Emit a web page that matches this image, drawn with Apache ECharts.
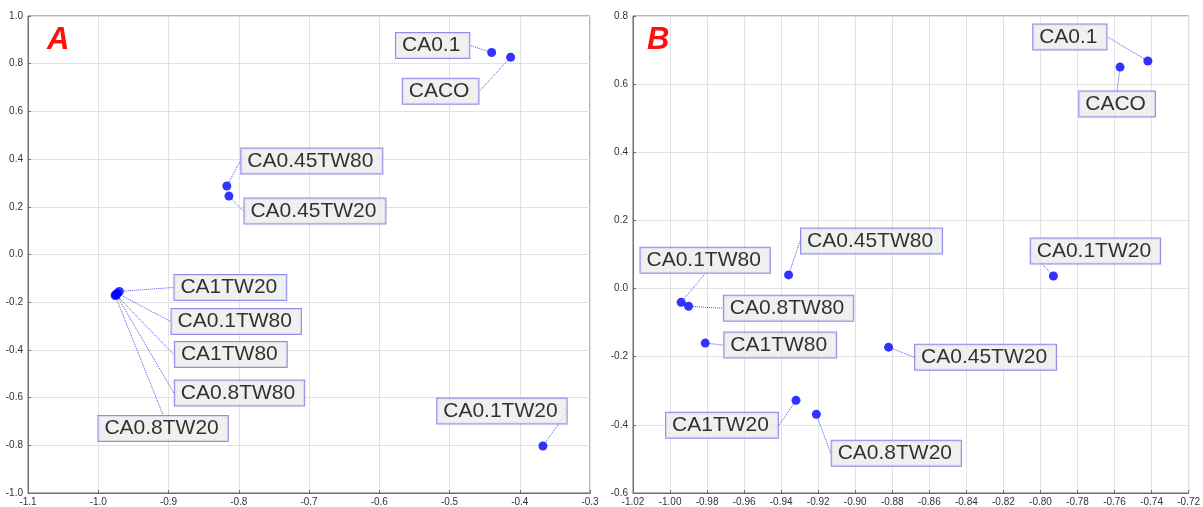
<!DOCTYPE html>
<html>
<head>
<meta charset="utf-8">
<script src="https://cdn.jsdelivr.net/npm/echarts@6/dist/echarts.min.js"></script>
<style>
html,body{margin:0;padding:0;background:#fff;}
#c{width:1203px;height:507px;}
</style>
</head>
<body>
<div id="c"></div>
<script>
// ---- Panel A data ----
const namesA = ['CA0.1','CACO','CA0.45TW80','CA0.45TW20','CA1TW20','CA0.1TW80','CA1TW80','CA0.8TW80','CA0.8TW20','CA0.1TW20'];
const xA = [-0.440, -0.413, -0.817, -0.814, -0.970, -0.973, -0.975, -0.974, -0.976, -0.367];
const yA = [0.847, 0.827, 0.287, 0.245, -0.155, -0.163, -0.168, -0.170, -0.172, -0.803];
// ---- Panel B data ----
const namesB = ['CA0.1','CACO','CA0.45TW80','CA0.1TW80','CA0.8TW80','CA1TW80','CA0.45TW20','CA0.1TW20','CA1TW20','CA0.8TW20'];
const xB = [-0.742, -0.757, -0.936, -0.994, -0.990, -0.981, -0.882, -0.793, -0.932, -0.921];
const yB = [0.668, 0.650, 0.040, -0.040, -0.052, -0.160, -0.172, 0.037, -0.328, -0.369];
// ---- Axis ranges / ticks ----
const axA = {xmin: -1.1, xmax: -0.3, xint: 0.1, ymin: -1.0, ymax: 1.0, yint: 0.2};
const axB = {xmin: -1.02, xmax: -0.72, xint: 0.02, ymin: -0.6, ymax: 0.8, yint: 0.2};
const panelLetters = ['A', 'B'];

// label offsets (pixels, label centre relative to point) - layout only
const offA = [[-59,-7],[-70,34],[85,-25],[86,15],[111,-4],[119,28],[115,60],[123,98],[48,133],[-41,-35]];
const offB = [[-78,-24],[-3,37],[83,-34],[24,-42],[100,2],[75,2],[97,10],[42,-25],[-74,25],[80,39]];

const chart = echarts.init(document.getElementById('c'));
const FONT = 'Arial, "Liberation Sans", sans-serif';

function xAxis(idx, ax, dec) {
  return {
    type: 'value', gridIndex: idx, min: ax.xmin, max: ax.xmax, interval: ax.xint,
    axisLine: {show: true, onZero: false, lineStyle: {color: '#6e6e6e', width: 1}},
    axisTick: {show: true, inside: true, length: 3, lineStyle: {color: '#6e6e6e'}},
    splitLine: {show: true, lineStyle: {color: '#e2e2e2', width: 1}},
    axisLabel: {fontSize: 10, color: '#333', fontFamily: FONT, margin: 4,
      formatter: v => v.toFixed(dec)}
  };
}
function yAxis(idx, ax) {
  return {
    type: 'value', gridIndex: idx, min: ax.ymin, max: ax.ymax, interval: ax.yint,
    axisLine: {show: true, onZero: false, lineStyle: {color: '#6e6e6e', width: 1}},
    axisTick: {show: true, inside: true, length: 3, lineStyle: {color: '#6e6e6e'}},
    splitLine: {show: true, lineStyle: {color: '#e2e2e2', width: 1}},
    axisLabel: {fontSize: 10, color: '#333', fontFamily: FONT, margin: 5,
      formatter: v => v.toFixed(1)}
  };
}
function series(idx, names, xs, ys, offs) {
  return {
    type: 'scatter', xAxisIndex: idx, yAxisIndex: idx,
    symbol: 'circle', symbolSize: 9,
    itemStyle: {color: '#0000ff'},
    data: names.map((n, i) => ({name: n, value: [xs[i], ys[i]]})),
    label: {
      show: true, position: 'inside', formatter: p => p.name,
      fontFamily: FONT, fontSize: 21, color: '#000', lineHeight: 23,
      backgroundColor: '#ececec', borderColor: '#7070e6', borderWidth: 1,
      padding: [1, 9, 1, 6], align: 'center', verticalAlign: 'middle'
    },
    labelLine: {show: true, lineStyle: {color: '#4f4fea', width: 1, type: 'dotted'}},
    labelLayout: p => ({dx: offs[p.dataIndex][0], dy: offs[p.dataIndex][1]}),
    emphasis: {disabled: true},
    z: 3
  };
}

chart.setOption({
  animation: false,
  title: panelLetters.map((t, i) => ({
    text: t, left: i === 0 ? 42 : 642, top: 20,
    textStyle: {color: '#ff1010', fontSize: 31, fontWeight: 'bold', fontStyle: 'italic', fontFamily: FONT}
  })),
  grid: [
    {left: 28, top: 16, width: 562, height: 477, show: true, borderColor: '#6e6e6e', borderWidth: 1, backgroundColor: '#fff'},
    {left: 633, top: 16, width: 560, height: 477, show: true, borderColor: '#6e6e6e', borderWidth: 1, backgroundColor: '#fff'}
  ],
  xAxis: [xAxis(0, axA, 1), xAxis(1, axB, 2)],
  yAxis: [yAxis(0, axA), yAxis(1, axB)],
  series: [series(0, namesA, xA, yA, offA), series(1, namesB, xB, yB, offB)]
});
</script>
</body>
</html>
